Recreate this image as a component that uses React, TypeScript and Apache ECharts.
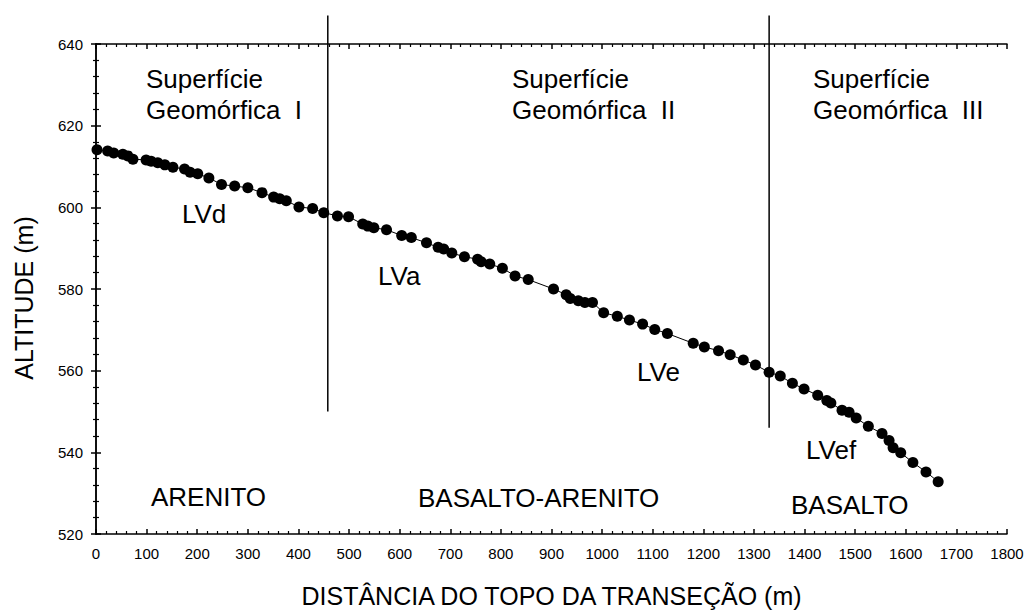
import React, { useEffect, useRef } from "react";
import * as echarts from "echarts";

const distance = [2, 23, 35, 53, 63, 73, 99, 109, 122, 136, 152, 175, 186, 201, 223, 248, 274, 300, 328, 351, 363, 376, 401, 428, 450, 477, 499, 527, 537, 549, 574, 604, 623, 653, 676, 687, 703, 728, 754, 761, 778, 803, 828, 854, 904, 929, 937, 953, 966, 981, 1003, 1030, 1054, 1080, 1104, 1129, 1180, 1202, 1230, 1253, 1279, 1303, 1330, 1352, 1376, 1399, 1426, 1444, 1452, 1474, 1488, 1502, 1526, 1553, 1567, 1575, 1590, 1614, 1640, 1664];
const altitude = [614.1, 613.8, 613.3, 613.0, 612.6, 611.8, 611.6, 611.3, 610.9, 610.4, 609.8, 609.4, 608.6, 608.2, 607.2, 605.6, 605.2, 604.8, 603.6, 602.5, 602.1, 601.6, 600.1, 599.7, 598.7, 597.9, 597.7, 595.9, 595.4, 595.0, 594.5, 593.1, 592.6, 591.3, 590.2, 589.8, 588.8, 587.9, 587.3, 586.7, 586.1, 585.1, 583.2, 582.3, 580.0, 578.6, 577.7, 577.1, 576.7, 576.7, 574.2, 573.3, 572.4, 571.4, 570.1, 569.1, 566.7, 565.8, 564.9, 563.9, 562.6, 561.4, 559.6, 558.7, 556.9, 555.5, 554.0, 552.7, 552.1, 550.3, 549.8, 548.4, 546.4, 544.6, 542.9, 541.1, 539.9, 537.5, 535.2, 532.8];

const boundaryX = [458, 1330];
const boundaryTop = [647, 647];
const boundaryBottom = [550, 546];

const surfaceLabels = ["Superfície\nGeomórfica  I", "Superfície\nGeomórfica  II", "Superfície\nGeomórfica  III"];
const soilLabels = ["LVd", "LVa", "LVe", "LVef"];
const rockLabels = ["ARENITO", "BASALTO-ARENITO", "BASALTO"];

const xTitle = "DISTÂNCIA DO TOPO DA TRANSEÇÃO (m)";
const yTitle = "ALTITUDE (m)";

const FONT = "'Liberation Sans', Arial, Helvetica, sans-serif";

export default function App() {
  const ref = useRef<HTMLDivElement>(null);
  useEffect(() => {
    if (!ref.current) return;
    const chart = echarts.init(ref.current, undefined, { renderer: "svg" });
    const axisCommon = {
      axisLine: { show: true, lineStyle: { color: "#000", width: 1.5 } },
      axisTick: { show: true, inside: true, length: 5, lineStyle: { color: "#000", width: 1.5 } },
      minorTick: { show: true, splitNumber: 5, length: 3, lineStyle: { color: "#000", width: 1.2 } },
      splitLine: { show: false },
    };
    const plain = (v: number) => String(v);
    const txt = (text: string, x: number, y: number, size = 26, lh = 31) => ({
      type: "text",
      x,
      y,
      silent: true,
      style: {
        text,
        fill: "#000",
        font: `${size}px ${FONT}`,
        lineHeight: lh,
        textAlign: "left",
        textVerticalAlign: "middle",
        verticalAlign: "middle",
      },
    });
    const surfPos = [[146, 94], [512, 94], [813, 94]];
    const soilPos = [[182, 214], [378, 276], [637, 372], [806, 450]];
    const rockPos = [[151, 497], [418, 498], [791, 505]];
    const graphics: any[] = [];
    surfaceLabels.forEach((t, i) => graphics.push(txt(t, surfPos[i][0], surfPos[i][1])));
    soilLabels.forEach((t, i) => graphics.push(txt(t, soilPos[i][0], soilPos[i][1])));
    rockLabels.forEach((t, i) => graphics.push(txt(t, rockPos[i][0], rockPos[i][1])));

    const option: any = {
      animation: false,
      backgroundColor: "#fff",
      textStyle: { fontFamily: FONT },
      grid: { left: 96, right: 21, top: 44, bottom: 75, containLabel: false },
      xAxis: [
        {
          type: "value",
          position: "bottom",
          min: 0,
          max: 1800,
          interval: 100,
          ...axisCommon,
          axisLabel: { color: "#000", fontSize: 15, margin: 12, fontFamily: FONT, formatter: plain },
          name: xTitle,
          nameLocation: "middle",
          nameGap: 49,
          nameTextStyle: { color: "#000", fontSize: 25, fontFamily: FONT },
        },
        {
          type: "value",
          position: "top",
          min: 0,
          max: 1800,
          interval: 100,
          ...axisCommon,
          axisLabel: { show: false },
        },
      ],
      yAxis: [
        {
          type: "value",
          position: "left",
          min: 520,
          max: 640,
          interval: 20,
          ...axisCommon,
          axisLabel: { color: "#000", fontSize: 15, margin: 13, fontFamily: FONT, formatter: plain },
          name: yTitle,
          nameLocation: "middle",
          nameGap: 60,
          nameTextStyle: { color: "#000", fontSize: 25, fontFamily: FONT, padding: [0, 18, 0, 0] },
        },
        {
          type: "value",
          position: "right",
          min: 520,
          max: 640,
          interval: 20,
          ...axisCommon,
          axisLabel: { show: false },
        },
      ],
      series: [
        {
          type: "line",
          name: "Perfil",
          xAxisIndex: 0,
          yAxisIndex: 0,
          data: distance.map((d, i) => [d, altitude[i]]),
          symbol: "circle",
          symbolSize: 11,
          showSymbol: true,
          itemStyle: { color: "#000" },
          lineStyle: { color: "#000", width: 1 },
        },
        ...boundaryX.map((bx, i) => ({
          type: "line",
          name: "Limite " + (i + 1),
          xAxisIndex: 0,
          yAxisIndex: 0,
          clip: false,
          data: [
            [bx, boundaryTop[i]],
            [bx, boundaryBottom[i]],
          ],
          showSymbol: false,
          symbol: "none",
          lineStyle: { color: "#000", width: 1.5 },
        })),
      ],
      graphic: graphics,
    };
    chart.setOption(option);
    return () => chart.dispose();
  }, []);
  return (
    <div
      ref={ref}
      style={{ position: "fixed", left: 0, top: 0, width: 1028, height: 613, background: "#fff" }}
    />
  );
}
